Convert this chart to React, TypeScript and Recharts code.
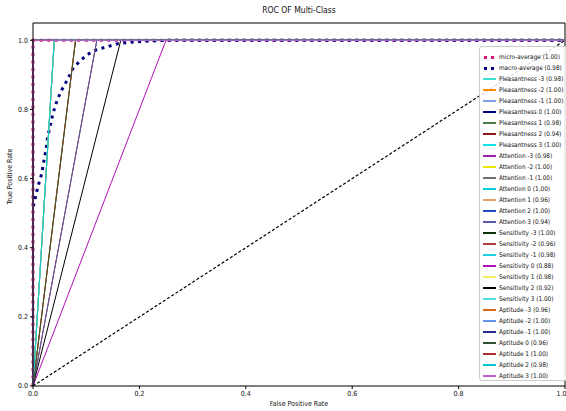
import { LineChart, Line, XAxis, YAxis, ReferenceLine } from "recharts";

const classNames = [
  "Pleasantness -3", "Pleasantness -2", "Pleasantness -1", "Pleasantness 0",
  "Pleasantness 1", "Pleasantness 2", "Pleasantness 3",
  "Attention -3", "Attention -2", "Attention -1", "Attention 0",
  "Attention 1", "Attention 2", "Attention 3",
  "Sensitivity -3", "Sensitivity -2", "Sensitivity -1", "Sensitivity 0",
  "Sensitivity 1", "Sensitivity 2", "Sensitivity 3",
  "Aptitude -3", "Aptitude -2", "Aptitude -1", "Aptitude 0",
  "Aptitude 1", "Aptitude 2", "Aptitude 3",
];

const classAuc = [
  0.98, 1.0, 1.0, 1.0, 0.98, 0.94, 1.0,
  0.98, 1.0, 1.0, 1.0, 0.96, 1.0, 0.94,
  1.0, 0.96, 0.98, 0.88, 0.98, 0.92, 1.0,
  0.96, 1.0, 1.0, 0.96, 1.0, 0.98, 1.0,
];

// false positive rate where each class curve reaches tpr = 1
const classFpr = [
  0.04, 0, 0, 0, 0.04, 0.12, 0,
  0.04, 0, 0, 0, 0.08, 0, 0.12,
  0, 0.08, 0.04, 0.25, 0.04, 0.165, 0,
  0.08, 0, 0, 0.08, 0, 0.04, 0,
];

const classColors = [
  "#40e0d0", "#ff8c00", "#7f9fe0", "#000080", "#4a7a4a", "#8b1a1a", "#10e0ea",
  "#9b20a8", "#e8e800", "#707070", "#00d0d8", "#e0a070", "#2050c0", "#5a5aa8",
  "#0a300a", "#b04040", "#20d0e0", "#b010b8", "#f0f060", "#000000", "#50e0e0",
  "#d2691e", "#6495ed", "#2a2a90", "#2f4f2f", "#b03030", "#00c8d0", "#c060c8",
];

const microX = [0, 0, 1];
const microY = [0, 1, 1];

const macroX = [
  0, 0.003, 0.005, 0.008, 0.011, 0.014, 0.017, 0.019, 0.022, 0.025, 0.027,
  0.036, 0.042, 0.052, 0.064, 0.075, 0.089, 0.105, 0.12, 0.139, 0.161, 0.183,
  0.208, 0.25, 1,
];
const macroY = [
  0.52, 0.53, 0.552, 0.568, 0.586, 0.6, 0.619, 0.639, 0.663, 0.69, 0.716,
  0.778, 0.812, 0.851, 0.884, 0.918, 0.942, 0.961, 0.973, 0.981, 0.991, 0.994,
  0.997, 1.0, 1.0,
];

const axisTicks = [0, 0.2, 0.4, 0.6, 0.8, 1.0];

const toPoints = (xs: number[], ys: number[]) => xs.map((x, i) => ({ x, y: ys[i] }));

const microData = toPoints(microX, microY);
const macroData = toPoints(macroX, macroY);
const classData = classFpr.map((f) => toPoints([0, f, 1], [0, 1, 1]));
const diagonal = toPoints([0, 1], [0, 1]);

const font = "'Liberation Sans Narrow', 'DejaVu Sans Condensed', 'Liberation Sans', sans-serif";

const legendRows = [
  { label: "micro-average (1.00)", color: "#e0107a", dots: true },
  { label: "macro-average (0.98)", color: "#000080", dots: true },
  ...classNames.map((n, i) => ({
    label: `${n} (${classAuc[i].toFixed(2)})`,
    color: classColors[i],
    dots: false,
  })),
];

export default function App() {
  return (
    <div style={{ position: "relative", width: 566, height: 411, overflow: "hidden", background: "#fff", fontFamily: font }}>
      <style>{"body{margin:0}"}</style>
      <div style={{ position: "absolute", left: 0, width: 598, top: 5, textAlign: "center", fontSize: 8.5, color: "#111" }}>
        ROC OF Multi-Class
      </div>
      <LineChart width={566} height={411} margin={{ top: 23, right: 1, bottom: 0, left: 0 }}>
        <XAxis
          type="number"
          dataKey="x"
          domain={[0, 1]}
          ticks={axisTicks}
          tickFormatter={(v: number) => v.toFixed(1)}
          height={25}
          stroke="#000"
          tickSize={3}
          tick={{ fontSize: 7, fill: "#111", fontFamily: font }}
          label={{ value: "False Positive Rate", position: "insideBottom", offset: 5, fontSize: 7, fill: "#111", fontFamily: font }}
        />
        <YAxis
          type="number"
          dataKey="y"
          domain={[0, 1.05]}
          ticks={axisTicks}
          allowDataOverflow
          tickFormatter={(v: number) => v.toFixed(1)}
          width={33}
          stroke="#000"
          tickSize={3}
          tick={{ fontSize: 7, fill: "#111", fontFamily: font }}
          label={{ value: "True Positive Rate", angle: -90, position: "insideLeft", offset: 10, fontSize: 7, fill: "#111", fontFamily: font }}
        />
        <ReferenceLine y={1.05} stroke="#000" strokeWidth={1} />
        <ReferenceLine x={1} stroke="#000" strokeWidth={1} />
        <Line
          data={microData}
          dataKey="y"
          stroke="#e0107a"
          strokeWidth={3}
          strokeDasharray="3 4.5"
          dot={false}
          isAnimationActive={false}
        />
        <Line
          data={macroData}
          dataKey="y"
          stroke="#000080"
          strokeWidth={3}
          strokeDasharray="3 4.5"
          dot={false}
          isAnimationActive={false}
        />
        {classData.map((d, i) => (
          <Line
            key={classNames[i]}
            data={d}
            dataKey="y"
            stroke={classColors[i]}
            strokeWidth={1}
            dot={false}
            isAnimationActive={false}
          />
        ))}
        <Line
          data={diagonal}
          dataKey="y"
          stroke="#000"
          strokeWidth={1.2}
          strokeDasharray="3 2"
          dot={false}
          isAnimationActive={false}
        />
      </LineChart>
      <div
        style={{
          position: "absolute",
          left: 479,
          top: 46,
          width: 100,
          height: 335,
          background: "rgba(255,255,255,0.85)",
          border: "1px solid #ccc",
          borderRadius: 3,
          boxSizing: "border-box",
          paddingTop: 5,
        }}
      >
        {legendRows.map((r) => (
          <div key={r.label} style={{ display: "flex", alignItems: "center", height: 10.97, fontSize: 6.4, color: "#111", whiteSpace: "nowrap" }}>
            <div style={{ width: 13, marginLeft: 3, marginRight: 3, position: "relative", height: 4 }}>
              {r.dots ? (
                <>
                  <div style={{ position: "absolute", left: 1, top: 0.5, width: 3, height: 3, background: r.color }} />
                  <div style={{ position: "absolute", left: 8, top: 0.5, width: 3, height: 3, background: r.color }} />
                </>
              ) : (
                <div style={{ position: "absolute", left: 0, top: 1, width: 13, height: 2, background: r.color }} />
              )}
            </div>
            <span>{r.label}</span>
          </div>
        ))}
      </div>
    </div>
  );
}
